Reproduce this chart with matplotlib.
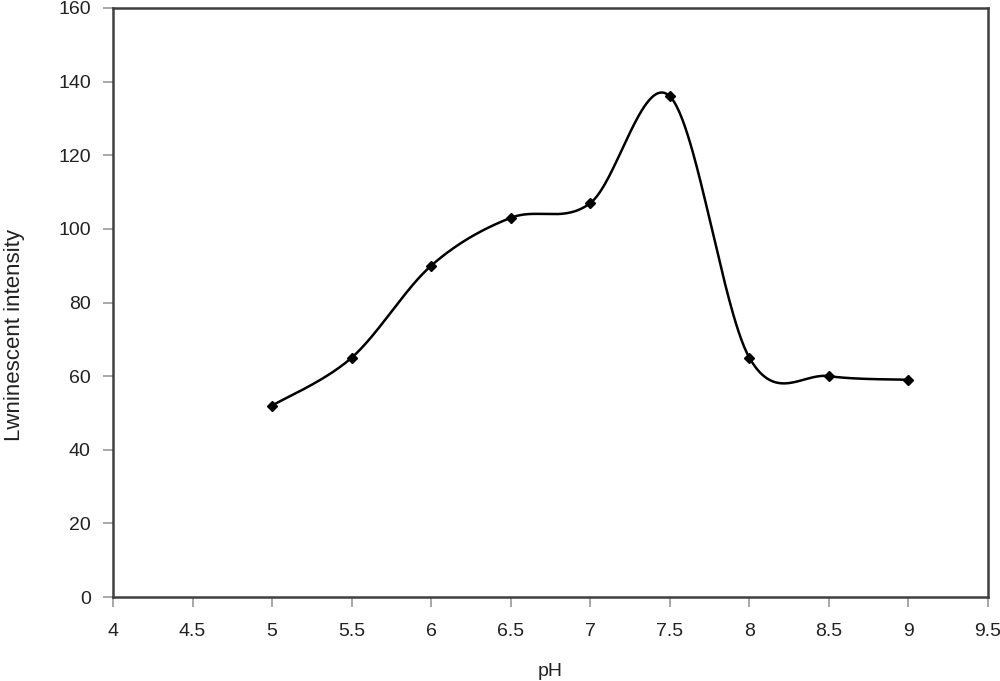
import numpy as np
import matplotlib
matplotlib.use('Agg')
import matplotlib.pyplot as plt

ph = [5, 5.5, 6, 6.5, 7, 7.5, 8, 8.5, 9]
intensity = [52, 65, 90, 103, 107, 136, 65, 60, 59]
xticks = [4, 4.5, 5, 5.5, 6, 6.5, 7, 7.5, 8, 8.5, 9, 9.5]
yticks = [0, 20, 40, 60, 80, 100, 120, 140, 160]


def smooth_curve(x, y, n=60):
    # Excel-like smoothed line: cubic bezier with catmull-rom control points
    x = np.asarray(x, float)
    y = np.asarray(y, float)
    px = np.concatenate([[x[0]], x, [x[-1]]])
    py = np.concatenate([[y[0]], y, [y[-1]]])
    xs, ys = [], []
    t = np.linspace(0, 1, n)
    for i in range(1, len(px) - 2):
        p0 = np.array([px[i], py[i]])
        p3 = np.array([px[i + 1], py[i + 1]])
        p1 = p0 + (np.array([px[i + 1], py[i + 1]]) - np.array([px[i - 1], py[i - 1]])) / 6
        p2 = p3 - (np.array([px[i + 2], py[i + 2]]) - np.array([px[i], py[i]])) / 6
        b = ((1 - t) ** 3)[:, None] * p0 + (3 * (1 - t) ** 2 * t)[:, None] * p1 \
            + (3 * (1 - t) * t ** 2)[:, None] * p2 + (t ** 3)[:, None] * p3
        xs.extend(b[:, 0])
        ys.extend(b[:, 1])
    return xs, ys


plt.rcParams['font.family'] = ['Liberation Sans', 'DejaVu Sans']

fig = plt.figure(figsize=(10, 6.81), dpi=100)
ax = fig.add_axes([0.113, 0.1233, 0.875, 0.865])

sx, sy = smooth_curve(ph, intensity)
ax.plot(sx, sy, color='black', linewidth=1.8)
ax.plot(ph, intensity, linestyle='none', marker='D', markersize=5.5, color='black')

ax.set_xlim(4, 9.5)
ax.set_ylim(0, 160)
ax.set_xticks(xticks)
ax.set_xticklabels([('%g' % v) for v in xticks])
ax.set_yticks(yticks)

for s in ax.spines.values():
    s.set_color('#404040')
    s.set_linewidth(1.8)

ax.tick_params(axis='both', direction='out', length=7, width=1.2, color='#999999',
               labelsize=14, labelcolor='#222222')
ax.tick_params(axis='x', pad=12)
ax.tick_params(axis='y', pad=9)

ax.set_xlabel('pH', fontsize=14, color='#222222', labelpad=16)
fig.text(0.015, 0.508, 'Lwninescent intensity', rotation=90, fontsize=16,
         color='#222222', ha='center', va='center')

fig.savefig('out.png', dpi=100)
